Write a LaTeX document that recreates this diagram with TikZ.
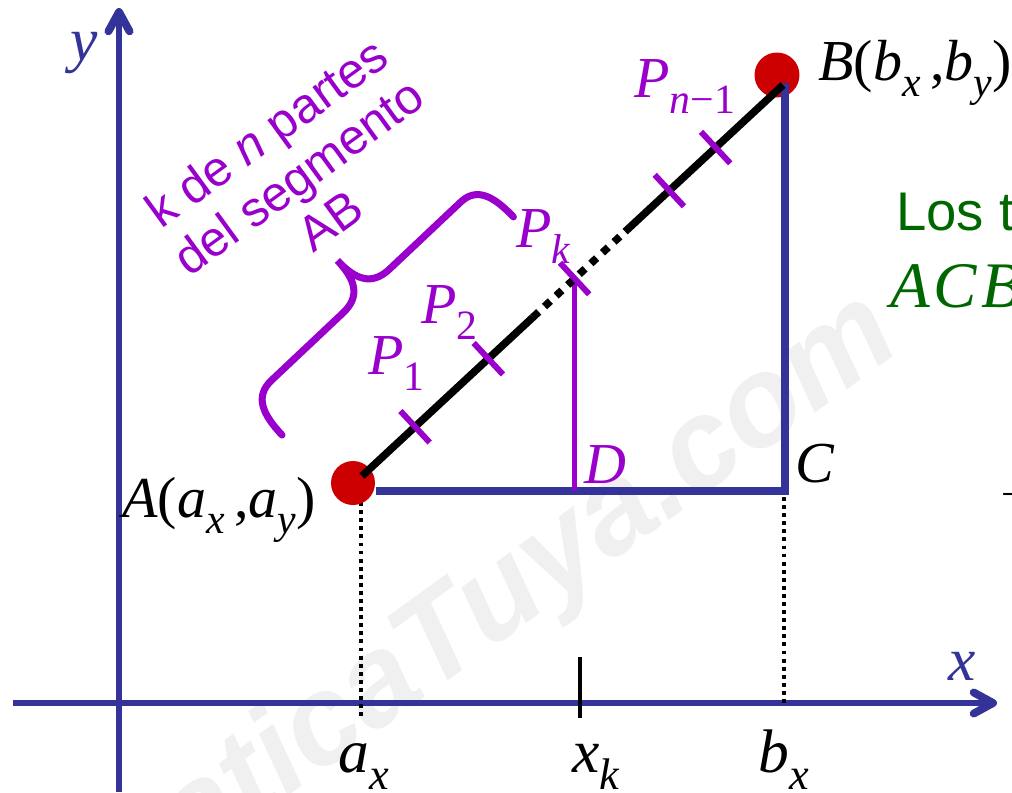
\documentclass[tikz,border=0pt]{standalone}
\usepackage{fontspec}
\setmainfont{Liberation Serif}
\setsansfont{Liberation Sans}
\usepackage{tikz}
\usetikzlibrary{calc, arrows.meta}
\definecolor{axisblue}{RGB}{51, 51, 153}
\definecolor{divpurple}{RGB}{153, 0, 204}
\definecolor{dotred}{RGB}{204, 0, 0}
\definecolor{textgreen}{RGB}{0, 102, 0}
\newcommand{\lowsub}[1]{\raisebox{-0.28em}{\scalebox{0.72}{#1}}}

\begin{document}
\begin{tikzpicture}[x=0.02cm, y=-0.02cm,
  axis/.style={axisblue, line width=3.4pt,
    -{Straight Barb[length=11pt, width=12pt, line width=4.5pt, round]}},
  leg/.style={axisblue, line width=4.8pt, line join=miter},
  seg/.style={black, line width=4.3pt},
  divtick/.style={divpurple, line width=3.4pt},
  guide/.style={black, line width=2.2pt, dash pattern=on 2.2pt off 2.4pt},
  lbl/.style={inner sep=0pt, font=\fontsize{33}{33}\selectfont},
  big/.style={inner sep=0pt, font=\fontsize{35}{35}\selectfont},
]
  \clip (0,0) rectangle (1012,792);

  % watermark
  \node[black!6, font=\sffamily\bfseries\itshape\fontsize{72}{72}\selectfont,
    rotate=36, anchor=base east] (wm) at (910,345) {MatematicaTuya.com};

  % axes
  \coordinate (O) at (119,703);
  \coordinate (xe) at (997,703);
  \coordinate (xs) at (13,703);
  \coordinate (ye) at (119,8);
  \coordinate (ys) at (119,792);
  \draw[axis] (xs) -- (xe);
  \draw[axis] (ys) -- (ye);
  \node[big, axisblue, anchor=base west] (xlab) at (948,680) {\textit{x}};
  \node[big, axisblue, anchor=base west] (ylab) at (70,60) {\textit{y}};

  % points of the segment
  \coordinate (A) at (362,476);
  \coordinate (B) at (783,85);
  \coordinate (C) at (785,491);
  \coordinate (Ah) at (376,491);
  \coordinate (Bt) at (785,83);
  \coordinate (P1) at ($(A)!0.126!(B)$);
  \coordinate (P2) at ($(A)!0.300!(B)$);
  \coordinate (Pk) at ($(A)!0.505!(B)$);
  \coordinate (Q1) at ($(A)!0.730!(B)$);
  \coordinate (Q2) at ($(A)!0.840!(B)$);
  \coordinate (S1) at ($(A)!0.406!(B)$);
  \coordinate (S2) at ($(A)!0.625!(B)$);
  \coordinate (D) at (Pk |- C);

  % projections on the x axis
  \coordinate (ax) at (361,718);
  \coordinate (bx) at (784,705);
  \coordinate (xk1) at (580,657);
  \coordinate (xk2) at (580,718);
  \draw[guide] (361,494) -- (ax);
  \draw[guide] (784,497) -- (bx);
  \draw[black, line width=2.3pt] (xk1) -- (xk2);

  % end points
  \fill[dotred] (353,483) circle[radius=0.44cm];
  \fill[dotred] (777,75) circle[radius=0.45cm];

  % triangle ACB
  \draw[leg] (Ah) -- (C) -- (Bt);
  \draw[divtick, line width=2.8pt] (Pk) -- (D);

  % segment AB
  \draw[seg] (A) -- (S1);
  \draw[seg, dash pattern=on 4.5pt off 4.5pt] (S1) -- (S2);
  \draw[seg] (S2) -- (B);

  % division marks
  \foreach \p in {P1, P2, Pk, Q1, Q2}
    \draw[divtick] ($(\p)!0.43cm!90:(B)$) -- ($(\p)!0.43cm!-90:(B)$);

  % brace
  \coordinate (br1) at (282,435);
  \begin{scope}[shift={(br1)}, rotate=43.3, x=0.02cm, y=0.02cm]
    \draw[divpurple, line width=4pt, line cap=round]
      (0,0) .. controls (0,28) and (6,47) .. (30,47) -- (128,47)
      .. controls (152,47) and (160,62) .. (160,89)
      .. controls (160,62) and (168,47) .. (192,47) -- (290,47)
      .. controls (312,47) and (318,28) .. (318,0);
  \end{scope}
  \node[divpurple, font=\sffamily\fontsize{28}{31}\selectfont, align=center,
    rotate=36] (note) at (298,176) {k de \textit{n} partes\\del segmento\\AB};

  % labels
  \node[lbl, anchor=base west] (labA) at (122,517)
    {\textit{A}(\textit{a}\lowsub{\textit{x}}\,,\textit{a}\lowsub{\textit{y}})};
  \node[lbl, anchor=base west] (labB) at (818,80)
    {\textit{B}(\textit{b}\lowsub{\textit{x}}\,,\textit{b}\lowsub{\textit{y}})};
  \node[lbl, anchor=base west] (labC) at (795,482) {\textit{C}};
  \node[lbl, divpurple, anchor=base west] (labD) at (584,483) {\textit{D}};
  \node[lbl, divpurple, anchor=base west] (labP1) at (368,374) {\textit{P}\lowsub{1}};
  \node[lbl, divpurple, anchor=base west] (labP2) at (421,323) {\textit{P}\lowsub{2}};
  \node[lbl, divpurple, anchor=base west] (labPk) at (516,247) {\textit{P}\lowsub{\textit{k}}};
  \node[lbl, divpurple, anchor=base west] (labPn) at (634,97) {\textit{P}\lowsub{\textit{n}−1}};
  \node[big, anchor=base west] (labax) at (338,772) {\textit{a}\lowsub{\textit{x}}};
  \node[big, anchor=base west] (labxk) at (572,772) {\textit{x}\lowsub{\textit{k}}};
  \node[big, anchor=base west] (labbx) at (758,772) {\textit{b}\lowsub{\textit{x}}};

  % text cut at the right edge
  \node[textgreen, inner sep=0pt, anchor=base west, font=\sffamily\fontsize{31}{31}\selectfont]
    (los) at (896,230) {Los t};
  \node[textgreen, inner sep=0pt, anchor=base west, font=\fontsize{37}{37}\selectfont]
    (acb) at (890,307) {\textit{A}\hspace{2pt}\textit{C}\hspace{2pt}\textit{B}};
  \node[inner sep=0pt, anchor=base west, font=\fontsize{24}{24}\selectfont]
    (dash) at (1001,508) {−};
\end{tikzpicture}
\end{document}
